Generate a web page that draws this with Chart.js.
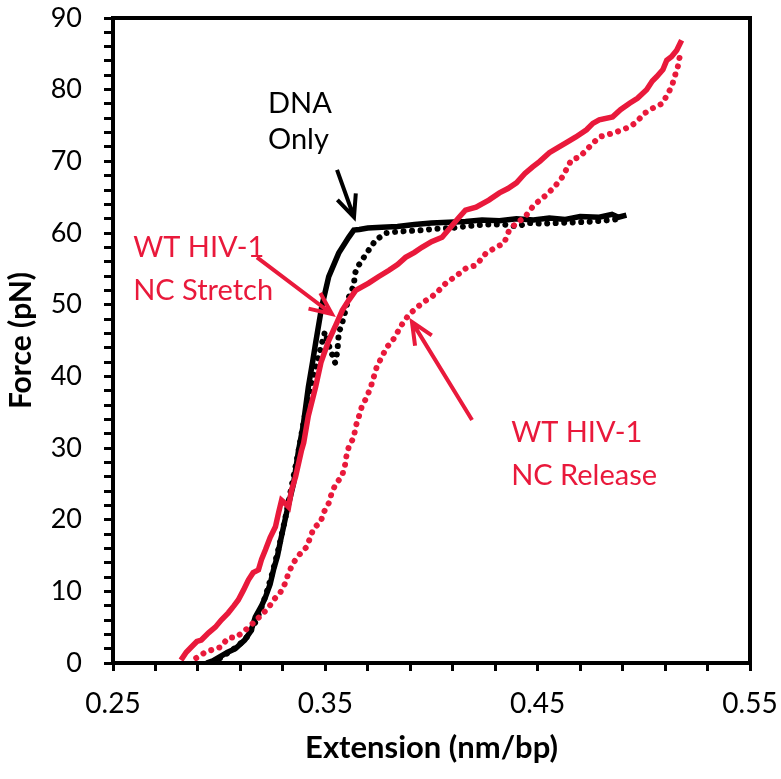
<!DOCTYPE html>
<html>
<head>
<meta charset="utf-8">
<script src="https://cdn.jsdelivr.net/npm/chart.js@4/dist/chart.umd.min.js"></script>
<style>
  html, body { margin: 0; padding: 0; background: #fff; }
  #wrap { width: 781px; height: 779px; }
</style>
</head>
<body>
<div id="wrap"><canvas id="chart" width="781" height="779"></canvas></div>
<script>
// DNA only, stretch (solid black)
const dnaStretchX = [0.294, 0.297, 0.300, 0.304, 0.3076, 0.312, 0.315, 0.317, 0.320, 0.3218, 0.324, 0.3256, 0.3275, 0.329, 0.3317, 0.335, 0.3374, 0.3395, 0.342, 0.344, 0.3454, 0.3483, 0.3516, 0.3563, 0.361, 0.3634, 0.366, 0.370, 0.3766, 0.384, 0.392, 0.400, 0.408, 0.416, 0.4238, 0.432, 0.440, 0.448, 0.4555, 0.463, 0.470, 0.479, 0.485, 0.488, 0.4918];
const dnaStretchY = [0, 0.3, 0.8, 1.5, 2, 3.2, 4.5, 6.4, 8, 9.2, 11, 13, 15, 17.2, 20.9, 25, 29.7, 33, 38.5, 42, 44.6, 49.7, 53.9, 57.2, 59.4, 60.4, 60.5, 60.7, 60.8, 60.9, 61.2, 61.4, 61.5, 61.6, 61.8, 61.7, 62.0, 61.8, 62.1, 61.9, 62.3, 62.2, 62.6, 62.2, 62.5];

// DNA only, release (dotted black)
const dnaReleaseX = [0.297, 0.301, 0.305, 0.309, 0.313, 0.316, 0.319, 0.322, 0.325, 0.328, 0.331, 0.334, 0.337, 0.340, 0.343, 0.3465, 0.3498, 0.3513, 0.3546, 0.3555, 0.356, 0.3563, 0.358, 0.3596, 0.361, 0.3634, 0.364, 0.3657, 0.369, 0.3737, 0.3785, 0.384, 0.390, 0.396, 0.402, 0.410, 0.418, 0.426, 0.434, 0.440, 0.446, 0.452, 0.460, 0.468, 0.476, 0.484, 0.490];
const dnaReleaseY = [0, 0.8, 1.6, 2.4, 3.6, 5, 7, 9.5, 12.5, 16, 20, 24.5, 29, 34, 38.5, 42.5, 46.2, 44.6, 41.9, 43.2, 44.6, 46, 47.5, 49.3, 51, 52.7, 54.4, 55.5, 57, 59, 60, 60.2, 60.3, 60.4, 60.6, 60.7, 61, 61.2, 61.2, 60.9, 61.4, 61.3, 61.4, 61.5, 61.6, 61.8, 62];

// WT HIV-1 NC, stretch (solid red)
const ncStretchX = [0.282, 0.2845, 0.2868, 0.2895, 0.2916, 0.295, 0.2982, 0.301, 0.3043, 0.307, 0.309, 0.3115, 0.3138, 0.316, 0.3185, 0.320, 0.3218, 0.324, 0.3265, 0.328, 0.3294, 0.331, 0.3327, 0.334, 0.336, 0.3388, 0.3398, 0.342, 0.3454, 0.348, 0.3516, 0.3553, 0.358, 0.361, 0.3643, 0.3704, 0.375, 0.380, 0.384, 0.3878, 0.392, 0.3955, 0.400, 0.405, 0.409, 0.413, 0.416, 0.421, 0.427, 0.432, 0.436, 0.440, 0.444, 0.4475, 0.451, 0.4555, 0.4595, 0.4635, 0.468, 0.473, 0.476, 0.479, 0.4853, 0.489, 0.4933, 0.497, 0.5013, 0.504, 0.506, 0.509, 0.5108, 0.513, 0.5155, 0.5178];
const ncStretchY = [0.4, 1.5, 2.2, 3, 3.2, 4.2, 5, 6, 7, 8, 8.8, 10.2, 11.6, 12.6, 13, 14.5, 15.8, 17.5, 19, 21, 22.7, 22.3, 21.8, 24, 26, 29.7, 30.7, 34.5, 38.5, 42, 45, 47.4, 49.2, 50.6, 52, 53, 53.9, 54.8, 55.6, 56.6, 57.3, 58, 58.8, 59.4, 60.8, 62.2, 63.2, 63.6, 64.6, 65.6, 66.2, 67, 68.3, 69.2, 70, 71.2, 71.9, 72.6, 73.4, 74.4, 75.3, 75.8, 76.2, 77.2, 78.1, 78.8, 80, 81.2, 81.8, 82.8, 84.1, 84.6, 85.5, 86.9];

// WT HIV-1 NC, release (dotted red)
const ncReleaseX = [0.2892, 0.2935, 0.2963, 0.3005, 0.3043, 0.3081, 0.3124, 0.3161, 0.3199, 0.3232, 0.3256, 0.3289, 0.3312, 0.3327, 0.335, 0.3374, 0.3412, 0.343, 0.3445, 0.3478, 0.3492, 0.3516, 0.353, 0.3549, 0.3577, 0.3591, 0.360, 0.361, 0.3634, 0.3643, 0.3657, 0.3671, 0.3695, 0.3714, 0.3728, 0.3742, 0.3766, 0.379, 0.3813, 0.3837, 0.386, 0.3893, 0.3927, 0.3964, 0.4002, 0.4035, 0.4068, 0.412, 0.4163, 0.421, 0.4257, 0.4304, 0.4342, 0.4366, 0.4404, 0.4437, 0.4475, 0.4499, 0.454, 0.4578, 0.4616, 0.4659, 0.4697, 0.473, 0.479, 0.4862, 0.4933, 0.4966, 0.5003, 0.5041, 0.5089, 0.5108, 0.5131, 0.5145, 0.516, 0.5169];
const ncReleaseY = [0.7, 1.5, 1.8, 2.2, 3.5, 3.6, 4.6, 5.6, 6.7, 7.7, 8.8, 9.9, 11.2, 12.6, 14, 15, 16.2, 17.6, 18.8, 19.7, 21, 22.3, 23.7, 25, 26, 27.3, 29, 30.1, 31.5, 33, 34.3, 35.7, 37.1, 38.5, 39.9, 41.3, 42.7, 44.1, 44.8, 46, 47.2, 48.6, 49.5, 50.4, 51.1, 52, 53, 54.1, 55.1, 55.5, 57.2, 58, 58.6, 60.4, 61.5, 62.1, 63.6, 64.3, 65.3, 66.4, 67.8, 70.2, 70.6, 71.6, 73.4, 74, 74.8, 75.5, 76.7, 77.4, 78.1, 79.2, 80.4, 81.8, 83.2, 84.6];

// axes
const xMin = 0.25, xMax = 0.55, xStep = 0.02;
const xLabelled = [0.25, 0.35, 0.45, 0.55];
const yMin = 0, yMax = 90, yStep = 2;

// annotations (text in data coords, arrows: from -> tip)
const notes = [
  { lines: ['DNA', 'Only'], x: 0.323, y: [78.1, 73.0], color: '#000000' },
  { lines: ['WT HIV-1', 'NC Stretch'], x: 0.2595, y: [57.9, 52.0], color: '#E9193B' },
  { lines: ['WT HIV-1', 'NC Release'], x: 0.4375, y: [32.1, 26.2], color: '#E9193B' }
];
const arrows = [
  { from: [0.3555, 68.8], to: [0.3635, 62.2], color: '#000000' },
  { from: [0.3178, 56.6], to: [0.3531, 48.7], color: '#E9193B' },
  { from: [0.4191, 33.9], to: [0.3908, 47.6], color: '#E9193B' }
];

const RED = '#E9193B';
const zip = (xs, ys) => xs.map((x, i) => ({ x, y: ys[i] }));

function drawArrow(ctx, x1, y1, x2, y2, color) {
  const a = Math.atan2(y2 - y1, x2 - x1);
  const head = 24, spread = 0.42;
  ctx.save();
  ctx.strokeStyle = color;
  ctx.lineWidth = 4;
  ctx.lineCap = 'butt';
  ctx.beginPath();
  ctx.moveTo(x1, y1);
  ctx.lineTo(x2, y2);
  ctx.moveTo(x2 - head * Math.cos(a - spread), y2 - head * Math.sin(a - spread));
  ctx.lineTo(x2, y2);
  ctx.lineTo(x2 - head * Math.cos(a + spread), y2 - head * Math.sin(a + spread));
  ctx.stroke();
  ctx.restore();
}

const extras = {
  id: 'extras',
  afterDraw(chart) {
    const { ctx, chartArea: ca, scales } = chart;
    const sx = scales.x, sy = scales.y;
    ctx.save();
    ctx.strokeStyle = '#000';
    ctx.lineWidth = 4;
    ctx.strokeRect(ca.left, ca.top, ca.right - ca.left, ca.bottom - ca.top);
    ctx.font = '29px Lato';
    ctx.textBaseline = 'middle';
    ctx.textAlign = 'left';
    notes.forEach((n) => {
      ctx.fillStyle = n.color;
      n.lines.forEach((t, i) => {
        ctx.fillText(t, sx.getPixelForValue(n.x), sy.getPixelForValue(n.y[i]));
      });
    });
    ctx.restore();
    arrows.forEach((a) => {
      drawArrow(ctx,
        sx.getPixelForValue(a.from[0]), sy.getPixelForValue(a.from[1]),
        sx.getPixelForValue(a.to[0]), sy.getPixelForValue(a.to[1]), a.color);
    });
  }
};

Chart.defaults.font.family = 'Lato';
Chart.defaults.color = '#000';

new Chart(document.getElementById('chart'), {
  type: 'scatter',
  data: {
    datasets: [
      {
        label: 'WT HIV-1 NC Stretch',
        data: zip(ncStretchX, ncStretchY),
        showLine: true, borderColor: RED, borderWidth: 5.5, pointRadius: 0, tension: 0
      },
      {
        label: 'WT HIV-1 NC Release',
        data: zip(ncReleaseX, ncReleaseY),
        showLine: true, borderColor: RED, borderWidth: 6, pointRadius: 0,
        borderDash: [0.01, 8.5], borderCapStyle: 'round'
      },
      {
        label: 'DNA Only Stretch',
        data: zip(dnaStretchX, dnaStretchY),
        showLine: true, borderColor: '#000', borderWidth: 5.5, pointRadius: 0
      },
      {
        label: 'DNA Only Release',
        data: zip(dnaReleaseX, dnaReleaseY),
        showLine: true, borderColor: '#000', borderWidth: 6, pointRadius: 0,
        borderDash: [0.01, 8.5], borderCapStyle: 'round'
      }
    ]
  },
  options: {
    responsive: false,
    animation: false,
    layout: { padding: { top: 18, right: 31, left: 0, bottom: 0 } },
    plugins: { legend: { display: false }, tooltip: { enabled: false } },
    scales: {
      x: {
        type: 'linear', min: xMin, max: xMax,
        afterFit: (s) => { s.height = 116; s.paddingLeft = 0; s.paddingRight = 0; },
        grid: { drawOnChartArea: false, tickLength: 8, tickWidth: 3, tickColor: '#000' },
        border: { color: '#000', width: 4 },
        ticks: {
          stepSize: xStep, autoSkip: false, maxRotation: 0, padding: 16,
          font: { size: 28 },
          callback: (v) => xLabelled.some((l) => Math.abs(l - v) < 1e-6) ? v.toFixed(2) : ''
        },
        title: { display: true, text: 'Extension (nm/bp)', font: { size: 31, weight: 'bold' }, padding: { bottom: 12 } }
      },
      y: {
        min: yMin, max: yMax,
        afterFit: (s) => { s.width = 113; s.paddingTop = 0; s.paddingBottom = 0; },
        grid: { drawOnChartArea: false, tickLength: 9, tickWidth: 3, tickColor: '#000' },
        border: { color: '#000', width: 4 },
        ticks: {
          stepSize: yStep, autoSkip: false, padding: 22,
          font: { size: 27 },
          callback: (v) => v % 10 === 0 ? String(v) : ''
        },
        title: { display: true, text: 'Force (pN)', font: { size: 30, weight: 'bold' }, padding: { top: 3 } }
      }
    }
  },
  plugins: [extras]
});
</script>
</body>
</html>
